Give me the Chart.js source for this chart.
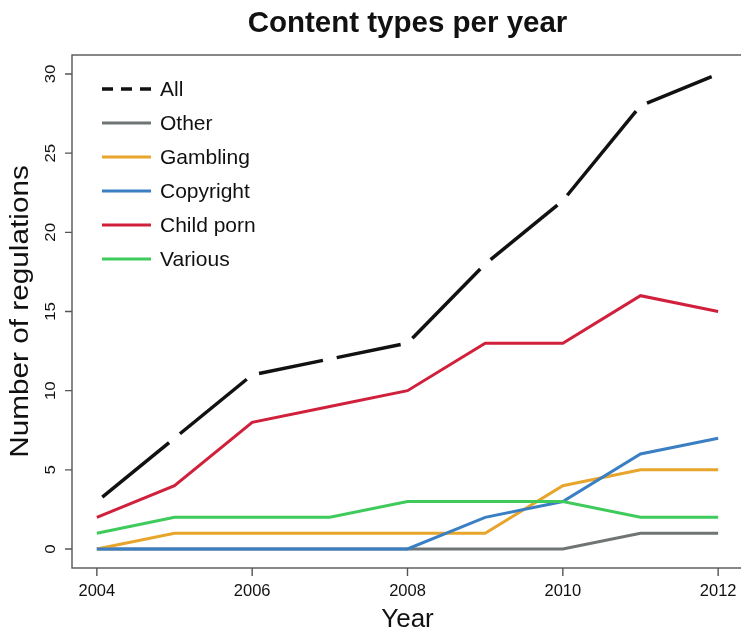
<!DOCTYPE html>
<html>
<head>
<meta charset="utf-8">
<script src="https://cdn.jsdelivr.net/npm/chart.js@4"></script>
<style>
  html, body { margin: 0; padding: 0; background: #fff; overflow: hidden; }
  #wrap { width: 760px; height: 630px; }
</style>
</head>
<body>
<div id="wrap"><canvas id="chart" width="760" height="630"></canvas></div>
<script>
const years = [2004, 2005, 2006, 2007, 2008, 2009, 2010, 2011, 2012];
const allCounts = [3, 7, 11, 12, 13, 18, 22, 28, 30];
const otherCounts = [0, 0, 0, 0, 0, 0, 0, 1, 1];
const gamblingCounts = [0, 1, 1, 1, 1, 1, 4, 5, 5];
const copyrightCounts = [0, 0, 0, 0, 0, 2, 3, 6, 7];
const childPornCounts = [2, 4, 8, 9, 10, 13, 13, 16, 15];
const variousCounts = [1, 2, 2, 2, 3, 3, 3, 2, 2];

const seriesNames = ['All', 'Other', 'Gambling', 'Copyright', 'Child porn', 'Various'];
const xTicks = [2004, 2006, 2008, 2010, 2012];
const yTicks = [0, 5, 10, 15, 20, 25, 30];

const FONT = '"Liberation Sans", Arial, Helvetica, sans-serif';
const GAP = 7; // gap left around each point of the "All" line

function toPoints(values) {
  return values.map((v, i) => ({ x: years[i], y: v }));
}

function segLen(ctx) {
  return Math.hypot(ctx.p1.x - ctx.p0.x, ctx.p1.y - ctx.p0.y);
}

const colors = ['#111111', '#6f7575', '#e8a52b', '#3a7fc3', '#d0203c', '#3fca5c'];
const seriesValues = [allCounts, otherCounts, gamblingCounts, copyrightCounts, childPornCounts, variousCounts];

const datasets = seriesNames.map((name, i) => {
  const ds = {
    label: name,
    data: toPoints(seriesValues[i]),
    borderColor: colors[i],
    borderWidth: i === 0 ? 3.5 : 3,
    pointRadius: 0,
    tension: 0,
    order: seriesNames.length - i
  };
  if (i === 0) {
    ds.borderCapStyle = 'butt';
    ds.segment = {
      borderDash: ctx => {
        const L = segLen(ctx);
        return [Math.max(L - 2 * GAP, 0), 2 * GAP + ctx.p0DataIndex * 1e-4];
      },
      borderDashOffset: ctx => segLen(ctx) - GAP
    };
  }
  return ds;
});

function drawText(ctx, text, x, y, font, angle, stretch) {
  ctx.save();
  ctx.translate(x, y);
  if (angle) ctx.rotate(angle);
  if (stretch) ctx.scale(stretch, 1);
  ctx.font = font;
  ctx.fillStyle = '#111';
  ctx.textAlign = 'center';
  ctx.textBaseline = 'middle';
  ctx.fillText(text, 0, 0);
  ctx.restore();
}

const decorations = {
  id: 'decorations',
  afterDraw(chart) {
    const ctx = chart.ctx;
    const area = chart.chartArea;
    const xs = chart.scales.x;
    const ys = chart.scales.y;

    // box
    ctx.save();
    ctx.strokeStyle = '#555';
    ctx.lineWidth = 1.4;
    ctx.strokeRect(area.left, area.top, area.right - area.left, area.bottom - area.top);

    // ticks
    ctx.beginPath();
    xTicks.forEach(t => {
      const px = xs.getPixelForValue(t);
      ctx.moveTo(px, area.bottom);
      ctx.lineTo(px, area.bottom + 8);
    });
    yTicks.forEach(t => {
      const py = ys.getPixelForValue(t);
      ctx.moveTo(area.left, py);
      ctx.lineTo(area.left - 7, py);
    });
    ctx.stroke();
    ctx.restore();

    xTicks.forEach(t => {
      drawText(ctx, String(t), xs.getPixelForValue(t), area.bottom + 23, '16.5px ' + FONT);
    });
    yTicks.forEach(t => {
      drawText(ctx, String(t), area.left - 21, ys.getPixelForValue(t), '15px ' + FONT, -Math.PI / 2, 1.12);
    });

    const midX = (area.left + area.right) / 2;
    const midY = (area.top + area.bottom) / 2;
    drawText(ctx, 'Content types per year', midX, 24, 'bold 29.5px ' + FONT);
    drawText(ctx, 'Year', midX, 620, '26px ' + FONT);
    drawText(ctx, 'Number of regulations', 21, midY, '25px ' + FONT, -Math.PI / 2, 1.19);

    // legend
    chart.data.datasets.forEach((ds, i) => {
      const y = 89 + i * 34;
      ctx.save();
      ctx.strokeStyle = ds.borderColor;
      ctx.lineWidth = ds.borderWidth;
      ctx.lineCap = 'butt';
      if (i === 0) ctx.setLineDash([11, 8]);
      ctx.beginPath();
      ctx.moveTo(102, y);
      ctx.lineTo(151, y);
      ctx.stroke();
      ctx.restore();

      ctx.save();
      ctx.font = '21px ' + FONT;
      ctx.fillStyle = '#111';
      ctx.textAlign = 'left';
      ctx.textBaseline = 'middle';
      ctx.fillText(ds.label, 160, y + 1);
      ctx.restore();
    });
  }
};

new Chart(document.getElementById('chart'), {
  type: 'line',
  data: { datasets: datasets },
  options: {
    responsive: false,
    animation: false,
    layout: { padding: { left: 72, top: 55, right: 17, bottom: 62 } },
    plugins: {
      legend: { display: false },
      tooltip: { enabled: false }
    },
    scales: {
      x: { type: 'linear', min: 2004 - 0.32, max: 2012 + 0.32, display: false },
      y: { type: 'linear', min: -1.2, max: 31.2, display: false }
    }
  },
  plugins: [decorations]
});
</script>
</body>
</html>
